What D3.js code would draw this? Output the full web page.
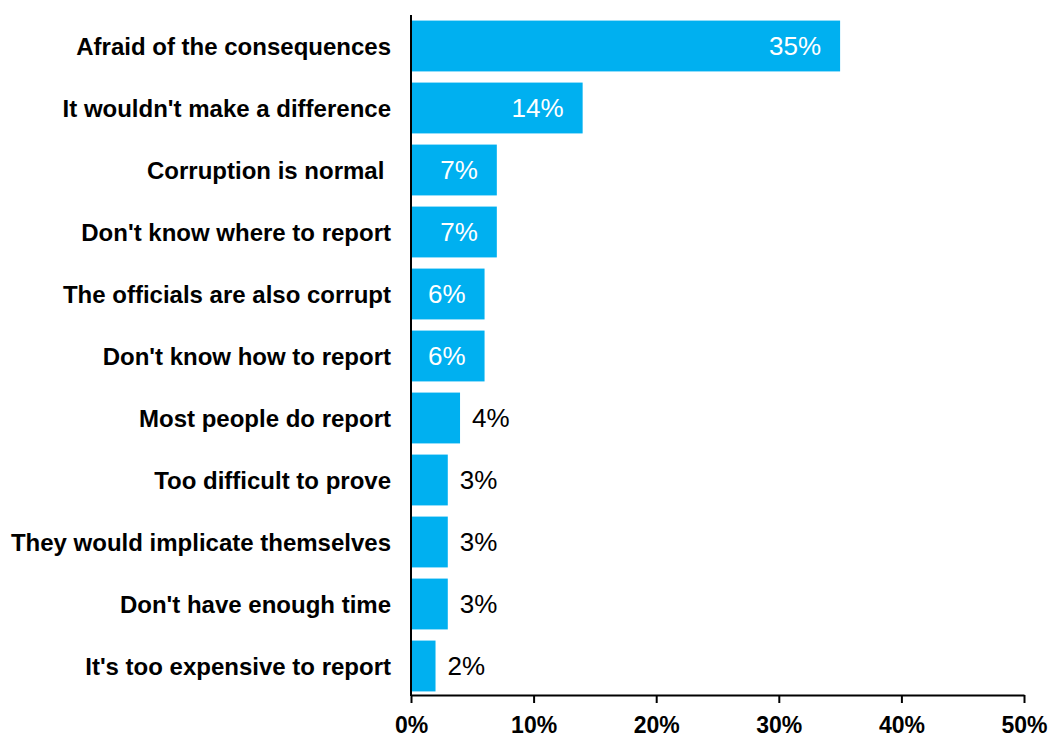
<!DOCTYPE html>
<html>
<head>
<meta charset="utf-8">
<script src="https://cdn.jsdelivr.net/npm/d3@7"></script>
<style>
  body { margin: 0; background: #fff; }
  svg { display: block; font-family: "Liberation Sans", Arial, sans-serif; }
</style>
</head>
<body>
<div id="chart"></div>
<script>
const categories = [
    "Afraid of the consequences",
    "It wouldn't make a difference",
    "Corruption is normal ",
    "Don't know where to report",
    "The officials are also corrupt",
    "Don't know how to report",
    "Most people do report",
    "Too difficult to prove",
    "They would implicate themselves",
    "Don't have enough time",
    "It's too expensive to report"
];
const values = [35, 14, 7, 7, 6, 6, 4, 3, 3, 3, 2];
const tickValues = [0, 10, 20, 30, 40, 50];

const width = 1049, height = 738;
const margin = {top: 15, right: 25, bottom: 41, left: 411};

const svg = d3.select("#chart").append("svg")
    .attr("width", width)
    .attr("height", height);

const x = d3.scaleLinear()
    .domain([0, 50])
    .range([margin.left, width - margin.right]);

const y = d3.scaleBand()
    .domain(categories)
    .range([margin.top, height - margin.bottom])
    .paddingInner(0.18)
    .paddingOuter(0.09);

// bars
svg.append("g")
    .selectAll("rect")
    .data(values)
    .join("rect")
    .attr("x", x(0))
    .attr("y", (d, i) => y(categories[i]))
    .attr("width", d => x(d) - x(0))
    .attr("height", y.bandwidth())
    .attr("fill", "#00B0F0");

// value labels: inside for the long bars, outside for the short ones
svg.append("g")
    .selectAll("text")
    .data(values)
    .join("text")
    .attr("x", d => d >= 5 ? x(d) - 19 : x(d) + 12)
    .attr("y", (d, i) => y(categories[i]) + y.bandwidth() / 2)
    .attr("dy", "0.36em")
    .attr("text-anchor", d => d >= 5 ? "end" : "start")
    .attr("fill", d => d >= 5 ? "#fff" : "#000")
    .style("font-size", "26px")
    .text(d => d + "%");

// category labels
svg.append("g")
    .selectAll("text")
    .data(categories)
    .join("text")
    .attr("x", margin.left - 20)
    .attr("y", d => y(d) + y.bandwidth() / 2)
    .attr("dy", "0.36em")
    .attr("text-anchor", "end")
    .attr("xml:space", "preserve")
    .style("white-space", "pre")
    .style("font-size", "24px")
    .style("font-weight", "bold")
    .text(d => d);

// x axis
const xAxis = svg.append("g")
    .attr("transform", `translate(0, ${height - margin.bottom - 2})`)
    .call(d3.axisBottom(x)
        .tickValues(tickValues)
        .tickSize(8)
        .tickSizeOuter(0)
        .tickFormat(d => d + "%"));
xAxis.select(".domain").attr("stroke", "#000").attr("stroke-width", 2);
xAxis.selectAll(".tick line").attr("stroke", "#000").attr("stroke-width", 2);
xAxis.selectAll(".tick text")
    .attr("y", 22)
    .attr("dy", "0.71em")
    .attr("fill", "#000")
    .style("font-family", "'Liberation Sans', Arial, sans-serif")
    .style("font-size", "23px")
    .style("font-weight", "bold");

// y axis line only
svg.append("line")
    .attr("x1", x(0)).attr("x2", x(0))
    .attr("y1", margin.top)
    .attr("y2", height - margin.bottom - 1)
    .attr("stroke", "#000")
    .attr("stroke-width", 2);
</script>
</body>
</html>
